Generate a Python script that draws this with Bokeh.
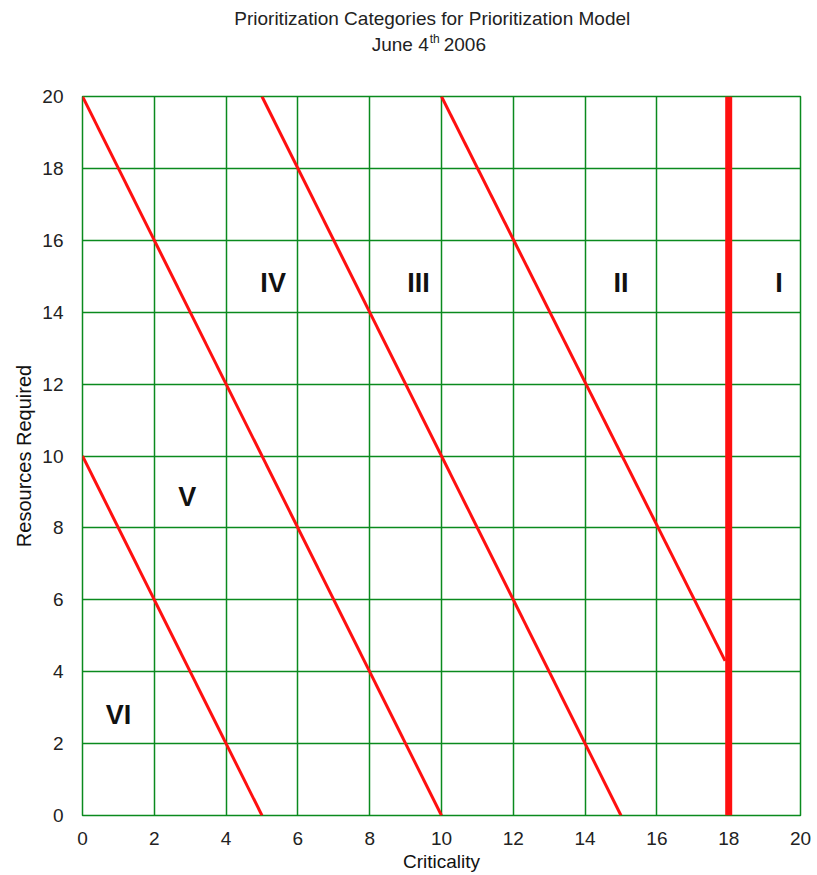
from bokeh.plotting import figure
from bokeh.models import FixedTicker, Range1d, ColumnDataSource
from bokeh.layouts import column
from bokeh.embed import file_html
from bokeh.resources import INLINE
from bokeh.core.properties import value

# ---- data ----
ticks = [0, 2, 4, 6, 8, 10, 12, 14, 16, 18, 20]
# category boundary lines (criticality -> resources required)
bound_x0 = [0, 0, 5, 10]
bound_y0 = [10, 20, 20, 20]
bound_x1 = [5, 10, 15, 17.9]
bound_y1 = [0, 0, 0, 4.3]
# category I cut-off
cutoff_x = 18
cutoff_y = [0, 20]
# category labels
cat_names = ["I", "II", "III", "IV", "V", "VI"]
cat_x = [19.4, 15.0, 9.36, 5.31, 2.92, 1.0]
cat_y = [14.8, 14.8, 14.8, 14.8, 8.85, 2.8]
# title texts
title_line1 = "Prioritization Categories for Prioritization Model"
title_date = "June 4"
title_sup = "th"
title_year = "2006"

FONT = "Liberation Sans"
GREEN = "#0a8a1e"
RED = "#ff1010"
TXT = "#222222"
STRIP = 84
W = 817
DX = -30  # measured horizontal offset of the strip's frame

# ---- title strip (pixel coordinates) ----
t = figure(width=W, height=STRIP, output_backend="svg", toolbar_location=None,
           x_range=Range1d(0, W), y_range=Range1d(0, STRIP),
           x_axis_location=None, y_axis_location=None,
           min_border=0, min_border_left=0, min_border_right=0,
           min_border_top=0, min_border_bottom=0)
t.outline_line_color = None
t.xgrid.visible = False
t.ygrid.visible = False
t.text(x=[428 + DX], y=[STRIP - 18], text=[title_line1], text_font=value(FONT),
       text_font_size="19px", text_color=TXT, text_align="center",
       text_baseline="middle")
t.text(x=[424 + DX], y=[STRIP - 44], text=[title_date], text_font=value(FONT),
       text_font_size="19px", text_color=TXT, text_align="right",
       text_baseline="middle")
t.text(x=[425 + DX], y=[STRIP - 38], text=[title_sup], text_font=value(FONT),
       text_font_size="12px", text_color=TXT, text_align="left",
       text_baseline="middle")
t.text(x=[441 + DX], y=[STRIP - 44], text=[title_year], text_font=value(FONT),
       text_font_size="19px", text_color=TXT, text_align="left",
       text_baseline="middle")

# ---- main chart ----
p = figure(width=W, height=875 - STRIP,
           output_backend="svg", toolbar_location=None,
           x_range=Range1d(0, 20), y_range=Range1d(0, 20),
           min_border_left=82, min_border_right=17, min_border_top=12,
           min_border_bottom=60)
p.background_fill_color = "white"
p.outline_line_color = GREEN
p.outline_line_width = 1.5

for ax in (p.xaxis[0], p.yaxis[0]):
    ax.ticker = FixedTicker(ticks=ticks)
    ax.axis_line_color = None
    ax.major_tick_line_color = None
    ax.minor_tick_line_color = None
    ax.major_tick_in = 0
    ax.major_tick_out = 0
    ax.minor_tick_in = 0
    ax.minor_tick_out = 0
    ax.major_label_text_font = FONT
    ax.major_label_text_font_size = "19px"
    ax.major_label_text_color = TXT
    ax.axis_label_text_font = FONT
    ax.axis_label_text_font_style = "normal"
    ax.axis_label_text_color = "#111111"

p.xaxis.axis_label = "Criticality"
p.yaxis.axis_label = "Resources Required"
p.xaxis.axis_label_text_font_size = "19px"
p.yaxis.axis_label_text_font_size = "20px"
p.xaxis.major_label_standoff = 16
p.xaxis.axis_label_standoff = 3
p.yaxis.major_label_standoff = 19
p.yaxis.axis_label_standoff = 4

p.xgrid.ticker = FixedTicker(ticks=ticks)
p.ygrid.ticker = FixedTicker(ticks=ticks)
for g in (p.xgrid[0], p.ygrid[0]):
    g.grid_line_color = GREEN
    g.grid_line_width = 1.5
    g.grid_line_alpha = 1.0

src = ColumnDataSource(dict(x0=bound_x0, y0=bound_y0, x1=bound_x1, y1=bound_y1))
p.segment(x0="x0", y0="y0", x1="x1", y1="y1", source=src,
          line_color=RED, line_width=3)
p.line(x=[cutoff_x, cutoff_x], y=cutoff_y, line_color=RED, line_width=7)

p.text(x=cat_x, y=cat_y, text=cat_names, text_font=value(FONT),
       text_font_size="27px", text_font_style="bold", text_color="#111111",
       text_align="center", text_baseline="middle")

layout = column(t, p, spacing=0)
open("out.html", "w").write(file_html(layout, INLINE))
